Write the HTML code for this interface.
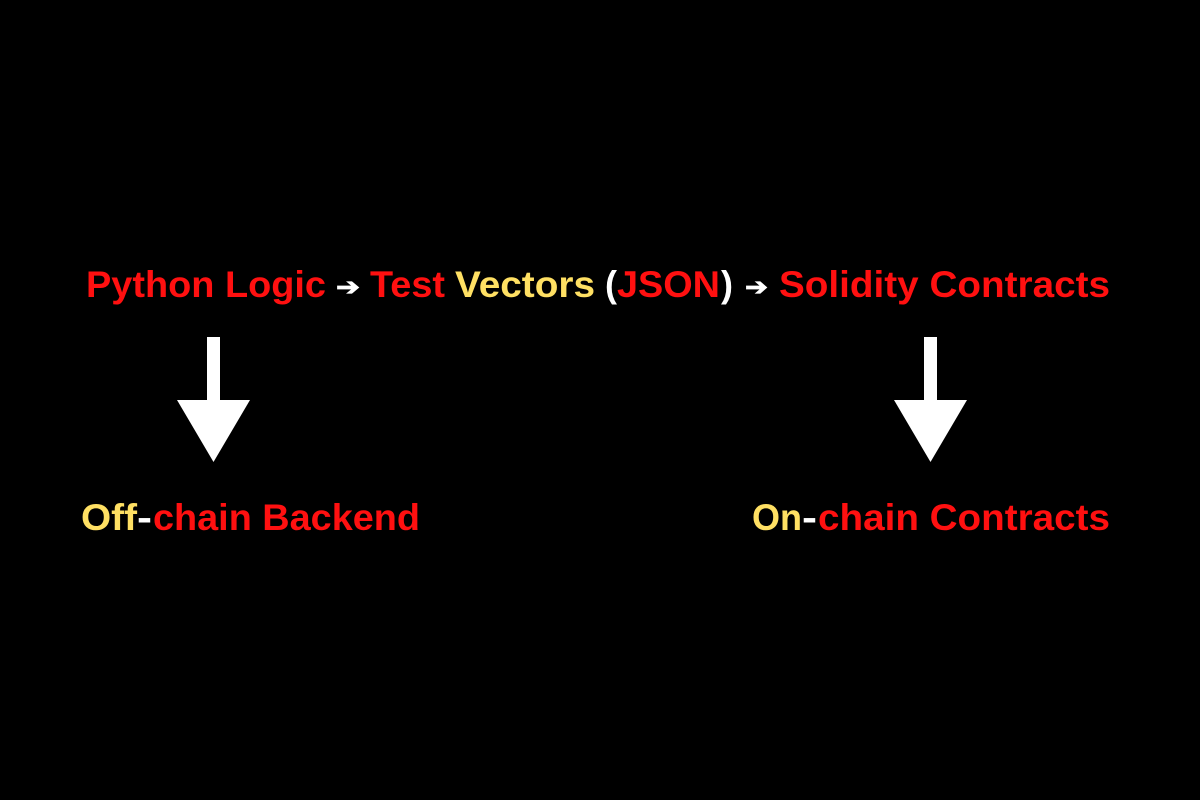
<!DOCTYPE html>
<html><head><style>
html,body{margin:0;padding:0;background:#000;}
svg{display:block}
text{font-family:"Liberation Sans",sans-serif;font-weight:bold;font-size:37px;}
.r{fill:#ff1010}.y{fill:#ffe063}.w{fill:#fff}
</style></head><body>
<svg width="1200" height="800" viewBox="0 0 1200 800">
<rect width="1200" height="800" fill="#000"/>
<text class="r" x="86" y="297" textLength="240" lengthAdjust="spacingAndGlyphs">Python Logic</text>
<text class="w" x="336" y="295" font-size="24" textLength="24" lengthAdjust="spacingAndGlyphs" style="font-size:24px">➔</text>
<text class="r" x="370" y="297" textLength="75" lengthAdjust="spacingAndGlyphs">Test</text>
<text class="y" x="455" y="297" textLength="140" lengthAdjust="spacingAndGlyphs">Vectors</text>
<text class="w" x="605" y="297" textLength="12" lengthAdjust="spacingAndGlyphs">(</text>
<text class="r" x="617" y="297" textLength="103" lengthAdjust="spacingAndGlyphs">JSON</text>
<text class="w" x="721" y="297" textLength="12" lengthAdjust="spacingAndGlyphs">)</text>
<text class="w" x="745" y="295" textLength="23" lengthAdjust="spacingAndGlyphs" style="font-size:24px">➔</text>
<text class="r" x="779" y="297" textLength="331" lengthAdjust="spacingAndGlyphs">Solidity Contracts</text>

<rect x="207" y="337" width="13" height="64" fill="#fff"/>
<polygon points="177,400 250,400 213.5,462" fill="#fff"/>
<rect x="924" y="337" width="13" height="64" fill="#fff"/>
<polygon points="894,400 967,400 930.5,462" fill="#fff"/>

<text class="y" x="81" y="530" textLength="56" lengthAdjust="spacingAndGlyphs">Off</text>
<text class="w" x="137" y="530" textLength="15" lengthAdjust="spacingAndGlyphs">-</text>
<text class="r" x="153" y="530" textLength="267" lengthAdjust="spacingAndGlyphs">chain Backend</text>
<text class="y" x="752" y="530" textLength="50" lengthAdjust="spacingAndGlyphs">On</text>
<text class="w" x="802" y="530" textLength="15" lengthAdjust="spacingAndGlyphs">-</text>
<text class="r" x="818" y="530" textLength="292" lengthAdjust="spacingAndGlyphs">chain Contracts</text>
</svg>
</body></html>
